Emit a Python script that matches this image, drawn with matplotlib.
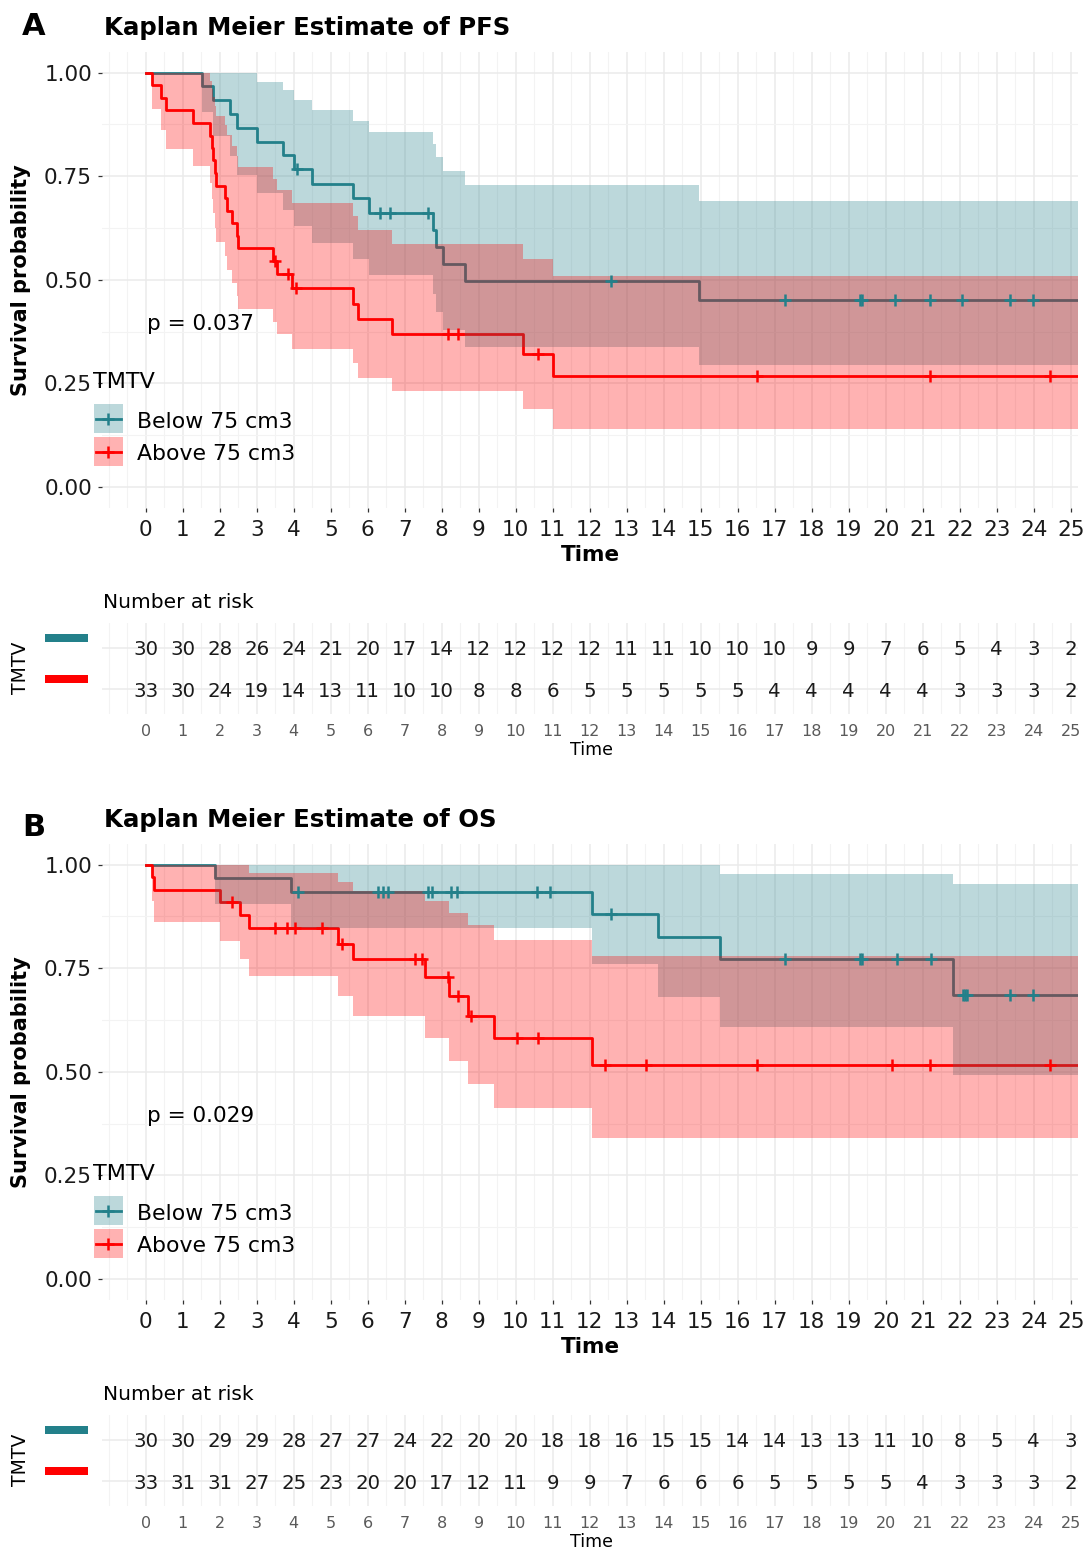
import numpy as np
import matplotlib.pyplot as plt
from matplotlib.patches import Rectangle

plt.rcParams['font.family'] = ['DejaVu Sans']

# ---------------------------------------------------------
# Figure geometry (pixels)
# ---------------------------------------------------------
W, H = 1090, 1554
X0_PX, X_SCALE = 145.7, 37.0          # pixel of t=0, pixels per month
XLIM = (-1.18, 25.2)
END_TIME = 25.2
PANEL_OFFSET = 792                     # vertical shift of panel B

TEAL = "#23808A"
RED = "#FF0000"

groups = ["Below 75 cm3", "Above 75 cm3"]
risk_times = list(range(26))

# ---------------------------------------------------------
# PFS
# ---------------------------------------------------------
pfs_below_time = [0, 1.51, 1.83, 2.28, 2.46, 3.02, 3.72, 4.02, 4.49, 5.61, 6.04,
                  7.77, 7.85, 8.04, 8.63, 14.95]
pfs_below_surv = [1.0, 0.967, 0.933, 0.900, 0.867, 0.833, 0.800, 0.767, 0.732, 0.697,
                  0.662, 0.621, 0.579, 0.538, 0.496, 0.451]
pfs_below_lower = [1.0, 0.905, 0.848, 0.799, 0.753, 0.710, 0.669, 0.630, 0.589, 0.550,
                   0.511, 0.466, 0.421, 0.379, 0.338, 0.295]
pfs_below_upper = [1.0, 1.0, 1.0, 1.0, 0.998, 0.978, 0.957, 0.934, 0.910, 0.884,
                   0.857, 0.828, 0.795, 0.763, 0.728, 0.690]
pfs_below_censor = [4.10, 6.33, 6.60, 7.64, 12.58, 17.28, 19.30, 19.36, 20.26, 21.19,
                    22.07, 23.37, 23.98]

pfs_above_time = [0, 0.18, 0.42, 0.55, 1.29, 1.74, 1.78, 1.82, 1.86, 1.90, 2.15, 2.20,
                  2.32, 2.46, 2.50, 3.45, 3.55, 3.95, 5.61, 5.75, 6.65, 10.20, 11.02]
pfs_above_surv = [1.0, 0.970, 0.939, 0.909, 0.879, 0.848, 0.818, 0.788, 0.758, 0.727,
                  0.697, 0.667, 0.636, 0.606, 0.576, 0.545, 0.513, 0.479, 0.442, 0.405,
                  0.368, 0.322, 0.268]
pfs_above_lower = [1.0, 0.913, 0.861, 0.816, 0.774, 0.734, 0.696, 0.660, 0.625, 0.590,
                   0.557, 0.524, 0.491, 0.460, 0.430, 0.399, 0.368, 0.334, 0.299, 0.264,
                   0.231, 0.189, 0.141]
pfs_above_upper = [1.0, 1.0, 1.0, 1.0, 0.998, 0.980, 0.961, 0.941, 0.919, 0.896,
                   0.873, 0.849, 0.823, 0.798, 0.772, 0.744, 0.716, 0.686, 0.655, 0.621,
                   0.587, 0.550, 0.510]
pfs_above_censor = [3.50, 3.85, 4.05, 8.18, 8.45, 10.60, 16.53, 21.19, 24.44]

pfs_risk_below = [30, 30, 28, 26, 24, 21, 20, 17, 14, 12, 12, 12, 12, 11, 11, 10, 10, 10,
                  9, 9, 7, 6, 5, 4, 3, 2]
pfs_risk_above = [33, 30, 24, 19, 14, 13, 11, 10, 10, 8, 8, 6, 5, 5, 5, 5, 5, 4, 4, 4,
                  4, 4, 3, 3, 3, 2]

# ---------------------------------------------------------
# OS
# ---------------------------------------------------------
os_below_time = [0, 1.87, 3.93, 12.05, 13.84, 15.51, 21.81]
os_below_surv = [1.0, 0.967, 0.933, 0.881, 0.826, 0.771, 0.685]
os_below_lower = [1.0, 0.905, 0.848, 0.760, 0.680, 0.609, 0.492]
os_below_upper = [1.0, 1.0, 1.0, 1.0, 1.0, 0.977, 0.953]
os_below_censor = [4.12, 6.29, 6.42, 6.56, 7.64, 7.73, 8.25, 8.40, 10.57, 10.93, 12.58,
                   17.28, 19.30, 19.36, 20.30, 21.23, 22.10, 22.15, 22.20, 23.37, 23.98]

os_above_time = [0, 0.16, 0.22, 2.01, 2.55, 2.78, 5.21, 5.61, 7.55, 8.20, 8.72, 9.40, 12.05]
os_above_surv = [1.0, 0.970, 0.939, 0.909, 0.878, 0.846, 0.809, 0.771, 0.728, 0.683,
                 0.634, 0.581, 0.516]
os_above_lower = [1.0, 0.913, 0.861, 0.816, 0.773, 0.731, 0.682, 0.634, 0.581, 0.527,
                  0.471, 0.413, 0.341]
os_above_upper = [1.0, 1.0, 1.0, 1.0, 0.998, 0.980, 0.959, 0.937, 0.912, 0.884,
                  0.853, 0.818, 0.780]
os_above_censor = [2.33, 3.49, 3.81, 4.04, 4.76, 5.30, 7.28, 7.46, 8.18, 8.45, 8.80,
                   10.03, 10.61, 12.40, 13.53, 16.53, 20.16, 21.21, 24.44]

os_risk_below = [30, 30, 29, 29, 28, 27, 27, 24, 22, 20, 20, 18, 18, 16, 15, 15, 14, 14,
                 13, 13, 11, 10, 8, 5, 4, 3]
os_risk_above = [33, 31, 31, 27, 25, 23, 20, 20, 17, 12, 11, 9, 9, 7, 6, 6, 6, 5, 5, 5,
                 5, 4, 3, 3, 3, 2]


# ---------------------------------------------------------
# Helpers
# ---------------------------------------------------------
def px_axes(fig, left, top, right, bottom):
    return fig.add_axes([left / W, 1 - bottom / H, (right - left) / W, (bottom - top) / H])


def step_value(times, values, t):
    idx = np.searchsorted(times, t, side="right") - 1
    return np.asarray(values)[idx]


def draw_km(ax, curves):
    # lines first, then ribbons, then censor marks (ggsurvplot layer order)
    for t, s, lo, up, cens, col in curves:
        ax.step(list(t) + [END_TIME], list(s) + [s[-1]], where="post",
                color=col, lw=2.0, zorder=2)
    for i, (t, s, lo, up, cens, col) in enumerate(curves):
        ax.fill_between(list(t) + [END_TIME], list(lo) + [lo[-1]], list(up) + [up[-1]],
                        step="post", color=col, alpha=0.3, lw=0, zorder=3 + i)
    for t, s, lo, up, cens, col in curves:
        ax.plot(cens, step_value(t, s, cens), ls="none", marker="+", ms=9, mew=1.8,
                color=col, zorder=6)


def style_main(ax):
    ax.set_xlim(*XLIM)
    ax.set_ylim(-0.05, 1.05)
    ax.set_xticks(risk_times)
    ax.set_xticks(np.arange(-1, 25.01, 0.5), minor=True)
    ax.set_yticks([0, 0.25, 0.5, 0.75, 1.0])
    ax.set_yticklabels(["0.00", "0.25", "0.50", "0.75", "1.00"])
    ax.set_yticks([0.125, 0.375, 0.625, 0.875], minor=True)
    ax.grid(which="major", color="#EBEBEB", lw=1.1)
    ax.grid(which="minor", color="#F3F3F3", lw=0.8)
    ax.set_axisbelow(True)
    for sp in ax.spines.values():
        sp.set_visible(False)
    ax.tick_params(which="major", length=3.2, width=0.9, color="#333333",
                   labelsize=15.5, labelcolor="#1A1A1A")
    ax.tick_params(axis="x", pad=5.5)
    ax.tick_params(axis="y", pad=4)
    ax.tick_params(which="minor", length=0)


def draw_table(ax, risk_below, risk_above):
    ax.set_xlim(*XLIM)
    ax.set_ylim(0.4, 2.6)
    ax.set_xticks(risk_times)
    ax.set_xticks(np.arange(-1, 25.01, 0.5), minor=True)
    ax.set_yticks([1, 2])
    ax.set_yticklabels([])
    ax.grid(which="major", color="#EBEBEB", lw=1.1)
    ax.grid(which="minor", axis="x", color="#F3F3F3", lw=0.8)
    ax.set_axisbelow(True)
    for sp in ax.spines.values():
        sp.set_visible(False)
    ax.tick_params(which="both", length=0)
    ax.tick_params(axis="x", labelsize=11.5, labelcolor="#5A5A5A", pad=7)
    for t, nb, na in zip(risk_times, risk_below, risk_above):
        ax.text(t, 2, str(nb), ha="center", va="center_baseline", fontsize=14.2, color="#1A1A1A")
        ax.text(t, 1, str(na), ha="center", va="center_baseline", fontsize=14.2, color="#1A1A1A")


def decorate(ov, oy, tag, tag_dy, title, ptext):
    ov.text(22, 35 + oy + tag_dy, tag, fontsize=22, fontweight="bold", va="baseline")
    ov.text(103.5, 35 + oy, title, fontsize=17.6, fontweight="bold", va="baseline")
    ov.text(21, 280 + oy, "Survival probability", rotation=90, fontsize=15,
            fontweight="bold", ha="center", va="center")
    ov.text(590, 555 + oy, "Time", fontsize=15.5, fontweight="bold", ha="center", va="center")
    ov.text(147, 322 + oy, ptext, fontsize=15.5, ha="left", va="center_baseline")
    # legend
    ov.text(93.3, 388.3 + oy, "TMTV", fontsize=16, va="baseline")
    for (name, col, top, base) in [(groups[0], TEAL, 404.3, 428.0),
                                   (groups[1], RED, 437.3, 460.0)]:
        ov.add_patch(Rectangle((94, top + oy), 28.7, 28.5, facecolor=col, alpha=0.3, lw=0))
        yc = top + 14.5 + oy
        ov.plot([96, 121], [yc, yc], color=col, lw=2.0)
        ov.plot([108.3], [yc], marker="+", ms=9, mew=1.8, color=col)
        ov.text(136.7, base + oy, name, fontsize=15.8, va="baseline")
    # risk table annotations
    ov.text(103, 600 + oy, "Number at risk", fontsize=14.5, va="center_baseline")
    ov.text(21, 668 + oy, "TMTV", rotation=90, fontsize=13.5, ha="center", va="center")
    ov.add_patch(Rectangle((44.6, 634 + oy), 43, 7.7, facecolor=TEAL, lw=0))
    ov.add_patch(Rectangle((44.6, 675 + oy), 43, 7.7, facecolor=RED, lw=0))
    ov.text(591, 750 + oy, "Time", fontsize=12.5, ha="center", va="center")


# ---------------------------------------------------------
# Build figure
# ---------------------------------------------------------
fig = plt.figure(figsize=(W / 100, H / 100), dpi=100)
left_px = X0_PX + X_SCALE * XLIM[0]
right_px = X0_PX + X_SCALE * XLIM[1]

panels = [
    (0, "A", 0, "Kaplan Meier Estimate of PFS", "p = 0.037",
     [(pfs_below_time, pfs_below_surv, pfs_below_lower, pfs_below_upper, pfs_below_censor, TEAL),
      (pfs_above_time, pfs_above_surv, pfs_above_lower, pfs_above_upper, pfs_above_censor, RED)],
     pfs_risk_below, pfs_risk_above),
    (PANEL_OFFSET, "B", 9, "Kaplan Meier Estimate of OS", "p = 0.029",
     [(os_below_time, os_below_surv, os_below_lower, os_below_upper, os_below_censor, TEAL),
      (os_above_time, os_above_surv, os_above_lower, os_above_upper, os_above_censor, RED)],
     os_risk_below, os_risk_above),
]

for oy, tag, tag_dy, title, ptext, curves, rb, ra in panels:
    ax = px_axes(fig, left_px, 51.8 + oy, right_px, 507.7 + oy)
    style_main(ax)
    draw_km(ax, curves)
    tab = px_axes(fig, left_px, 622.6 + oy, right_px, 713.9 + oy)
    draw_table(tab, rb, ra)

ov = fig.add_axes([0, 0, 1, 1])
ov.set_xlim(0, W)
ov.set_ylim(H, 0)
ov.axis("off")
for oy, tag, tag_dy, title, ptext, curves, rb, ra in panels:
    decorate(ov, oy, tag, tag_dy, title, ptext)

fig.savefig("out.png", dpi=100)
